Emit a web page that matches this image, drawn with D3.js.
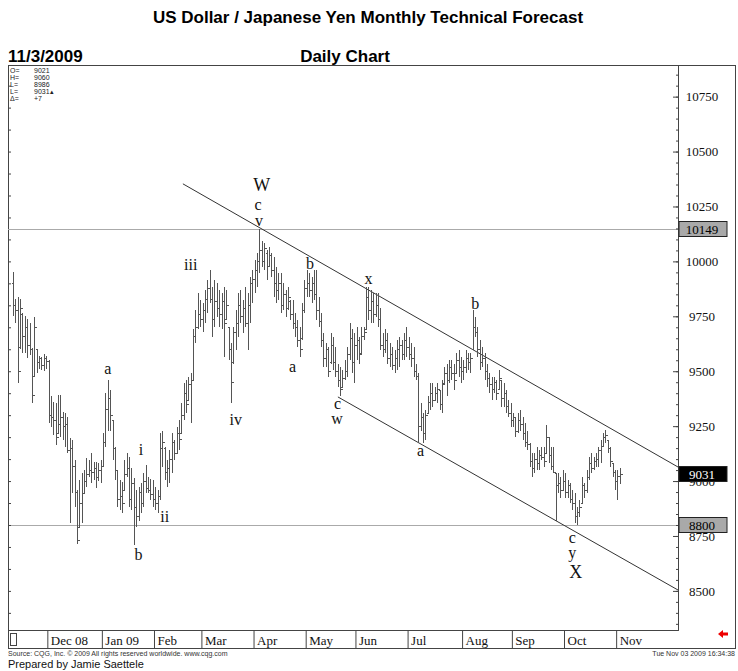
<!DOCTYPE html>
<html>
<head>
<meta charset="utf-8">
<script src="https://cdn.jsdelivr.net/npm/d3@7"></script>
<style>
body { margin: 0; background: #fff; }
svg { display: block; }
</style>
</head>
<body>
<svg id="chart" width="738" height="671"></svg>
<script>
// daily USD/JPY bars, [open, high, low, close], one array per month
var nov08 = [[9900,9950,9750,9800],[9800,9830,9720,9780],[9780,9840,9445,9500],[9610,9830,9600,9790],[9760,9765,9585,9660],
  [9660,9750,9585,9700],[9700,9740,9560,9620],[9620,9720,9575,9600],[9600,9605,9355,9390],[9480,9745,9480,9700],
  [9600,9600,9490,9540],[9540,9570,9510,9560],[9560,9565,9505,9530],[9530,9580,9500,9560],[9560,9570,9510,9545]];
var dec08 = [[9545,9550,9265,9300],[9300,9385,9245,9290],[9290,9360,9210,9280],[9280,9355,9165,9200],[9220,9390,9220,9260],
  [9260,9390,9200,9290],[9290,9315,9185,9250],[9250,9310,9155,9260],[9260,9290,9130,9140],[9140,9195,8810,9150],
  [9150,9185,8945,9070],[9070,9095,8880,8950],[8950,8960,8715,8730],[8790,9005,8790,8900],[8900,9035,8810,8945],
  [8945,9050,8945,9000],[9000,9105,8975,9030],[9030,9095,9020,9050],[9050,9130,8990,9040],[9040,9085,9005,9060],
  [9060,9085,8970,9020],[9020,9080,9000,9050],[9050,9095,8990,9070]];
var jan09 = [[9070,9220,9065,9180],[9180,9400,9155,9330],[9330,9460,9230,9380],[9380,9415,9230,9300],[9280,9280,9095,9150],
  [9150,9155,9005,9050],[9050,9050,8880,8920],[8920,9005,8870,8930],[8930,8995,8855,8900],[8960,9095,8960,9030],
  [9030,9130,9020,9060],[9060,9110,8880,8920],[8920,9060,8870,8990],[8990,9015,8710,8880],[8880,8960,8790,8840],
  [8840,8975,8820,8950],[8950,8990,8855,8900],[8900,9035,8880,9000],[9000,9075,8945,8970],[8970,9020,8945,8960],
  [8960,9010,8915,8940],[8940,9005,8880,8920]];
var feb09 = [[8920,8975,8870,8900],[8900,8960,8855,8930],[8930,9220,8915,9150],[9150,9230,9065,9180],[9150,9155,9005,9040],
  [9040,9095,8975,9060],[9060,9140,8990,9100],[9100,9220,9035,9180],[9180,9185,9095,9130],[9130,9245,9130,9220],
  [9220,9280,9140,9190],[9220,9355,9220,9300],[9300,9445,9280,9400],[9400,9460,9310,9350],[9370,9475,9370,9440],
  [9440,9490,9265,9460],[9460,9690,9460,9660],[9660,9780,9630,9700],[9700,9855,9690,9760],[9760,9825,9700,9740]];
var mar09 = [[9740,9810,9680,9780],[9780,9870,9720,9830],[9830,9915,9765,9880],[9880,9960,9810,9830],[9830,9885,9655,9740],
  [9740,9915,9700,9820],[9820,9900,9745,9790],[9790,9870,9700,9760],[9760,9855,9690,9820],[9820,9885,9565,9720],
  [9740,9870,9735,9800],[9700,9700,9550,9600],[9600,9630,9355,9450],[9540,9700,9535,9680],[9680,9780,9595,9720],
  [9720,9855,9655,9800],[9800,9870,9720,9750],[9750,9825,9675,9790],[9790,9885,9700,9720],[9720,9855,9595,9800],
  [9800,9930,9720,9900],[9900,9960,9810,9920]];
var apr09 = [[9920,10005,9855,9960],[9960,10040,9885,10000],[10000,10149,9945,10050],[10050,10095,9975,10000],[10000,10085,9960,10060],
  [10040,10050,9915,9980],[9980,10065,9975,10030],[10030,10040,9930,9960],[9960,10020,9840,9900],[9900,9975,9810,9870],
  [9870,9945,9825,9900],[9900,9945,9765,9800],[9800,9900,9780,9850],[9850,9870,9745,9790],[9790,9885,9780,9840],
  [9820,9825,9735,9760],[9760,9825,9690,9720],[9720,9765,9655,9700],[9700,9735,9610,9640],[9640,9700,9565,9600],
  [9650,9810,9640,9780],[9780,9915,9765,9880]];
var may09 = [[9880,9960,9840,9900],[9900,9945,9840,9870],[9870,9930,9810,9900],[9900,9960,9825,9850],[9850,9960,9735,9780],
  [9780,9840,9700,9730],[9730,9765,9610,9640],[9640,9675,9520,9560],[9560,9630,9520,9600],[9600,9610,9475,9500],
  [9540,9675,9535,9620],[9620,9655,9505,9540],[9540,9610,9475,9500],[9500,9535,9430,9460],[9460,9520,9385,9420],
  [9430,9505,9430,9470],[9470,9550,9460,9500],[9500,9610,9475,9580],[9580,9720,9550,9650],[9650,9690,9490,9540],
  [9540,9675,9445,9620]];
var jun09 = [[9620,9700,9550,9640],[9640,9655,9535,9580],[9585,9700,9585,9660],[9660,9700,9640,9680],[9690,9885,9690,9840],
  [9840,9885,9735,9780],[9780,9870,9720,9820],[9820,9855,9720,9760],[9760,9855,9745,9800],[9800,9855,9700,9740],
  [9740,9790,9595,9620],[9620,9675,9565,9600],[9600,9690,9585,9640],[9640,9675,9535,9560],[9560,9630,9520,9580],
  [9580,9610,9505,9530],[9530,9595,9490,9560],[9560,9640,9505,9600],[9600,9655,9520,9620],[9620,9640,9550,9580],
  [9580,9675,9550,9640],[9640,9700,9565,9610]];
var jul09 = [[9610,9655,9550,9580],[9580,9630,9520,9560],[9560,9610,9475,9500],[9500,9535,9460,9480],[9480,9490,9175,9250],
  [9250,9355,9230,9290],[9290,9310,9175,9220],[9220,9325,9185,9300],[9310,9385,9310,9360],[9360,9445,9325,9400],
  [9400,9445,9335,9370],[9370,9430,9370,9400],[9400,9445,9355,9420],[9415,9415,9325,9350],[9350,9460,9310,9440],
  [9445,9520,9445,9490],[9490,9535,9385,9460],[9460,9550,9445,9520],[9520,9550,9460,9490],[9490,9535,9415,9460],
  [9490,9585,9490,9550],[9550,9595,9475,9520],[9520,9565,9445,9500]];
var aug09 = [[9500,9550,9460,9520],[9520,9595,9490,9560],[9560,9585,9505,9540],[9540,9585,9490,9560],[9600,9780,9595,9700],
  [9700,9745,9655,9680],[9680,9700,9565,9600],[9600,9640,9505,9540],[9540,9610,9520,9560],[9560,9585,9460,9500],
  [9500,9535,9430,9470],[9470,9490,9400,9440],[9440,9475,9370,9420],[9420,9475,9400,9450],[9450,9460,9370,9400],
  [9420,9505,9415,9470],[9460,9460,9335,9380],[9380,9445,9335,9400],[9400,9415,9310,9340],[9340,9370,9290,9310],
  [9310,9355,9245,9280]];
var sep09 = [[9280,9310,9245,9290],[9290,9290,9200,9230],[9230,9310,9220,9280],[9280,9325,9230,9260],[9260,9290,9185,9220],
  [9220,9265,9155,9180],[9180,9230,9140,9170],[9170,9175,9065,9090],[9090,9130,9020,9060],[9060,9130,9035,9100],
  [9100,9155,9050,9080],[9080,9140,9050,9120],[9120,9155,9095,9110],[9110,9155,9065,9090],[9130,9255,9130,9200],
  [9200,9200,9080,9120],[9120,9155,9050,9070],[9070,9155,9035,9040],[9035,9035,8820,8980],[8980,9035,8945,8990],
  [8990,9020,8925,8960],[8960,9050,8960,9000]];
var oct09 = [[9000,9035,8925,8950],[8950,9005,8925,8980],[8980,8990,8900,8920],[8920,8960,8870,8900],[8900,8945,8810,8840],
  [8840,8880,8800,8860],[8860,8915,8835,8880],[8900,9020,8900,8980],[8980,8990,8925,8960],[8960,9050,8945,9020],
  [9020,9110,9005,9080],[9080,9130,9035,9060],[9060,9110,9050,9090],[9090,9130,9065,9100],[9100,9155,9065,9140],
  [9140,9185,9080,9160],[9160,9220,9155,9200],[9200,9232,9175,9210],[9185,9185,9130,9150],[9150,9155,9065,9090],
  [9080,9080,9020,9040],[9040,9050,8960,9000]];
var nov09 = [[9000,9050,8915,9024],[9021,9060,8986,9031]];

var months = [nov08, dec08, jan09, feb09, mar09, apr09, may09, jun09, jul09, aug09, sep09, oct09, nov09];
var monthLabels = ["Dec 08", "Jan 09", "Feb", "Mar", "Apr", "May", "Jun", "Jul", "Aug", "Sep", "Oct", "Nov"];

var priceLabels = [8500, 8750, 9000, 9250, 9500, 9750, 10000, 10250, 10500, 10750];
var markedLevels = [10149, 8800];
var lastPrice = 9031;
var infoRows = [["O=", "9021"], ["H=", "9060"], ["L=", "8986"], ["L=", "9031\u25B4"], ["\u0394=", "+7"]];

// channel lines as [bar index, price]
var upperChannel = [[71.7, 10353], [280.6, 9064]];
var lowerChannel = [[137.1, 9383], [280.6, 8504]];

// elliott wave labels [bar index, price, text]
var waveLabels = [
  [105, 10321, "W"], [103.4, 10234, "c"], [103.8, 10161, "v"], [75, 9961, "iii"], [40, 9487, "a"],
  [54, 9118, "i"], [64, 8813, "ii"], [53, 8640, "b"], [94, 9255, "iv"], [125.3, 9965, "b"],
  [118, 9496, "a"], [150, 9897, "x"], [137, 9330, "c"], [136.7, 9262, "w"], [172, 9114, "a"],
  [195, 9783, "b"], [236, 8718, "c"], [236, 8649, "y"], [237.5, 8558, "X"]
];

var bars = [];
var monthStarts = [];
months.forEach(function (m, k) {
  if (k > 0) monthStarts.push(bars.length);
  m.forEach(function (b) {
    bars.push({ i: bars.length, o: b[0], h: b[1], l: b[2], c: b[3] });
  });
});

var plot = { left: 8, right: 678, top: 65, bottom: 630 };
var serif = '"Liberation Serif", "Times New Roman", serif';
var sans = '"Liberation Sans", Arial, sans-serif';
var svg = d3.select('#chart');

var x = d3.scaleLinear().domain([-2.1, 280.6]).range([plot.left, plot.right]);
var y = d3.scaleLinear().domain([8322, 10894]).range([plot.bottom, plot.top]);

// titles
svg.append('text').attr('x', 368).attr('y', 23).attr('text-anchor', 'middle')
  .style('font', 'bold 17px ' + sans)
  .text('US Dollar / Japanese Yen Monthly Technical Forecast');
svg.append('text').attr('x', 8).attr('y', 62)
  .style('font', 'bold 17px ' + sans).text('11/3/2009');
svg.append('text').attr('x', 345).attr('y', 62).attr('text-anchor', 'middle')
  .style('font', 'bold 17px ' + sans).text('Daily Chart');

// frame
var frame = svg.append('g').attr('stroke', '#444').attr('fill', 'none');
frame.append('rect').attr('x', 8.5).attr('y', 65.5).attr('width', 727).attr('height', 583);
frame.append('line').attr('x1', 8).attr('x2', 678).attr('y1', 630.5).attr('y2', 630.5);

// horizontal reference levels
svg.append('g').selectAll('line').data(markedLevels).enter().append('line')
  .attr('x1', plot.left).attr('x2', plot.right)
  .attr('y1', function (d) { return Math.round(y(d)) + 0.5; })
  .attr('y2', function (d) { return Math.round(y(d)) + 0.5; })
  .attr('stroke', '#aaa').attr('stroke-width', 1);

// channel
var line = d3.line().x(function (d) { return x(d[0]); }).y(function (d) { return y(d[1]); });
svg.append('g').selectAll('path').data([upperChannel, lowerChannel]).enter().append('path')
  .attr('d', line).attr('fill', 'none').attr('stroke', '#333').attr('stroke-width', 1);

// bars
var bg = svg.append('g').attr('stroke', '#555').attr('stroke-width', 1).attr('shape-rendering', 'crispEdges');
var barG = bg.selectAll('g').data(bars).enter().append('g')
  .attr('transform', function (d) { return 'translate(' + (Math.round(x(d.i)) + 0.5) + ',0)'; });
barG.append('line').attr('y1', function (d) { return y(d.h); }).attr('y2', function (d) { return y(d.l); });
barG.append('line').attr('x1', -2).attr('x2', 0)
  .attr('y1', function (d) { return Math.round(y(d.o)) + 0.5; }).attr('y2', function (d) { return Math.round(y(d.o)) + 0.5; });
barG.append('line').attr('x1', 0).attr('x2', 2)
  .attr('y1', function (d) { return Math.round(y(d.c)) + 0.5; }).attr('y2', function (d) { return Math.round(y(d.c)) + 0.5; });

// right price axis
var axisG = svg.append('g').attr('transform', 'translate(' + plot.right + ',0)');
axisG.append('g').call(d3.axisLeft(y).tickValues(d3.range(8350, 10900, 50)).tickSize(2).tickFormat(''));
axisG.append('g').call(d3.axisLeft(y).tickValues(priceLabels).tickSize(5).tickFormat(''));
var lab = axisG.append('g').call(d3.axisRight(y).tickValues(priceLabels).tickSize(0).tickPadding(0).tickFormat(d3.format('d')));
lab.select('.domain').remove();
lab.selectAll('text').attr('x', 24).attr('text-anchor', 'middle')
  .style('font', '13px ' + serif).attr('fill', '#111');
axisG.selectAll('.domain').attr('stroke', '#444');
axisG.selectAll('.tick line').attr('stroke', '#444');

// left border ticks
svg.append('g').attr('transform', 'translate(' + plot.left + ',0)')
  .call(d3.axisRight(y).tickValues(d3.range(8400, 10900, 100)).tickSize(3).tickFormat(''))
  .call(function (g) { g.select('.domain').remove(); g.selectAll('line').attr('stroke', '#444'); });

// value boxes on the axis
var boxes = markedLevels.map(function (v) { return { v: v, fill: '#a9a9a9', text: '#000' }; })
  .concat([{ v: lastPrice, fill: '#000', text: '#fff' }]);
var bx = svg.append('g').selectAll('g').data(boxes).enter().append('g')
  .attr('transform', function (d) { return 'translate(' + (plot.right + 1) + ',' + Math.round(y(d.v)) + ')'; });
bx.append('rect').attr('x', 0).attr('y', -7.5).attr('width', 48).attr('height', 15)
  .attr('fill', function (d) { return d.fill; }).attr('stroke', '#222');
bx.append('text').attr('x', 23).attr('y', 5).attr('text-anchor', 'middle')
  .attr('fill', function (d) { return d.text; })
  .style('font', '13px ' + serif).text(function (d) { return d.v; });

// month axis
var xa = svg.append('g').attr('transform', 'translate(0,' + plot.bottom + ')')
  .call(d3.axisBottom(x).tickValues(monthStarts.map(function (s) { return s - 0.5; }))
    .tickSize(18).tickFormat(function (d, k) { return monthLabels[k]; }));
xa.select('.domain').remove();
xa.selectAll('.tick line').attr('stroke', '#444');
xa.selectAll('.tick text').attr('text-anchor', 'start').attr('x', 3).attr('y', 3).attr('dy', '0.9em')
  .style('font', '13px ' + serif).attr('fill', '#111');
svg.append('rect').attr('x', 10.5).attr('y', 633.5).attr('width', 6).attr('height', 12)
  .attr('fill', 'none').attr('stroke', '#444');
svg.append('path').attr('d', 'M718,634 l5,-4 v2.5 h5 v3 h-5 v2.5 z').attr('fill', '#e00');

// info box
var info = svg.append('g').style('font', '7px ' + sans).attr('fill', '#222');
info.selectAll('text.k').data(infoRows).enter().append('text').attr('class', 'k')
  .attr('x', 10).attr('y', function (d, k) { return 73 + k * 7; }).text(function (d) { return d[0]; });
info.selectAll('text.v').data(infoRows).enter().append('text').attr('class', 'v')
  .attr('x', 34).attr('y', function (d, k) { return 73 + k * 7; }).text(function (d) { return d[1]; });

// wave labels
svg.append('g').selectAll('text').data(waveLabels).enter().append('text')
  .attr('x', function (d) { return x(d[0]); }).attr('y', function (d) { return y(d[1]); })
  .attr('text-anchor', 'middle')
  .style('font-family', serif)
  .style('font-size', function (d) { return /[WX]/.test(d[2]) ? '18px' : '16px'; })
  .attr('fill', '#111').text(function (d) { return d[2]; });

// footer
svg.append('text').attr('x', 8).attr('y', 656).style('font', '7px ' + sans)
  .attr('fill', '#333').text('Source: CQG, Inc. \u00A9 2009 All rights reserved worldwide. www.cqg.com');
svg.append('text').attr('x', 735).attr('y', 656).attr('text-anchor', 'end')
  .style('font', '7px ' + sans).attr('fill', '#333').text('Tue Nov 03 2009 16:34:38');
svg.append('text').attr('x', 8).attr('y', 668).style('font', '11px ' + sans)
  .attr('fill', '#111').text('Prepared by Jamie Saettele');
</script>
</body>
</html>
